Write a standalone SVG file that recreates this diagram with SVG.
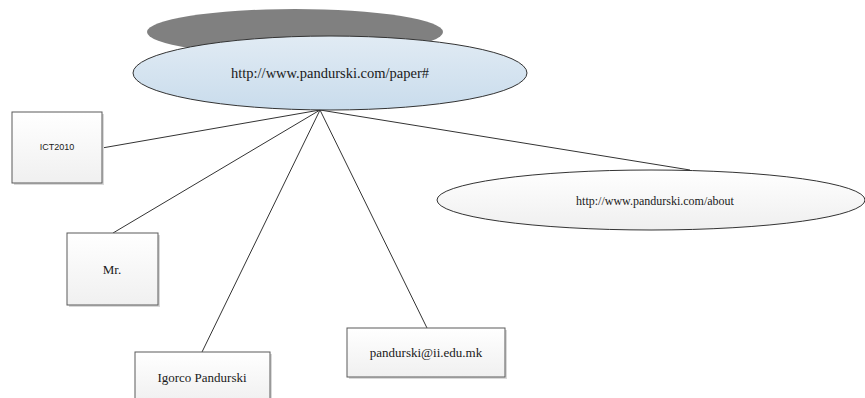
<svg xmlns="http://www.w3.org/2000/svg" width="865" height="398" viewBox="0 0 865 398">
<style>
.box{fill:url(#boxg);stroke:#5a5a5a;stroke-width:1}
.shadow{fill:#d9d9d9}
.conn{stroke:#333;stroke-width:1;fill:none}
.serif{font-family:"Liberation Serif","Times New Roman",serif;fill:#1a1a1a}
.sans{font-family:"Liberation Sans",Arial,sans-serif;fill:#1a1a1a}
</style>
<defs>
<linearGradient id="boxg" x1="0" y1="0" x2="0" y2="1"><stop offset="0" stop-color="#ffffff"/><stop offset="1" stop-color="#f0f0f0"/></linearGradient>
<linearGradient id="blueg" x1="0" y1="0" x2="0" y2="1"><stop offset="0" stop-color="#e1ebf4"/><stop offset="1" stop-color="#c9dcec"/></linearGradient>
<linearGradient id="greyg" x1="0" y1="0" x2="0" y2="1"><stop offset="0" stop-color="#ffffff"/><stop offset="1" stop-color="#efefef"/></linearGradient>
</defs>
<g id="connectors">
<line class="conn" x1="320" y1="110" x2="102" y2="148"/>
<line class="conn" x1="320" y1="110" x2="113" y2="233"/>
<line class="conn" x1="320" y1="110" x2="202" y2="352"/>
<line class="conn" x1="320" y1="110" x2="427" y2="328"/>
<line class="conn" x1="320" y1="110" x2="690" y2="170"/>
</g>
<g id="paper">
<ellipse cx="295" cy="32" rx="148" ry="23" fill="#808080"/>
<ellipse cx="330" cy="73" rx="197" ry="37" fill="url(#blueg)" stroke="#333" stroke-width="1"/>
<text class="serif" x="330" y="78" font-size="14.5" text-anchor="middle">http://www.pandurski.com/paper#</text>
</g>
<g id="ict2010">
<rect class="shadow" x="14" y="114" width="90" height="71"/>
<rect class="box" x="12" y="112" width="90" height="71"/>
<text class="sans" x="57" y="150" font-size="9" text-anchor="middle">ICT2010</text>
</g>
<g id="mr">
<rect class="shadow" x="69" y="235" width="91" height="72"/>
<rect class="box" x="67" y="233" width="91" height="72"/>
<text class="serif" x="112" y="274" font-size="13" text-anchor="middle">Mr.</text>
</g>
<g id="igorco">
<rect class="shadow" x="137" y="354" width="135" height="50"/>
<rect class="box" x="135" y="352" width="135" height="50"/>
<text class="serif" x="202" y="382" font-size="13" text-anchor="middle">Igorco Pandurski</text>
</g>
<g id="email">
<rect class="shadow" x="349" y="330" width="158" height="49"/>
<rect class="box" x="347" y="328" width="158" height="49"/>
<text class="serif" x="426" y="357" font-size="13" text-anchor="middle">pandurski@ii.edu.mk</text>
</g>
<g id="about">
<ellipse cx="651" cy="200" rx="214" ry="30" fill="url(#greyg)" stroke="#333" stroke-width="1"/>
<text class="serif" x="655" y="205" font-size="12" text-anchor="middle">http://www.pandurski.com/about</text>
</g>
</svg>
